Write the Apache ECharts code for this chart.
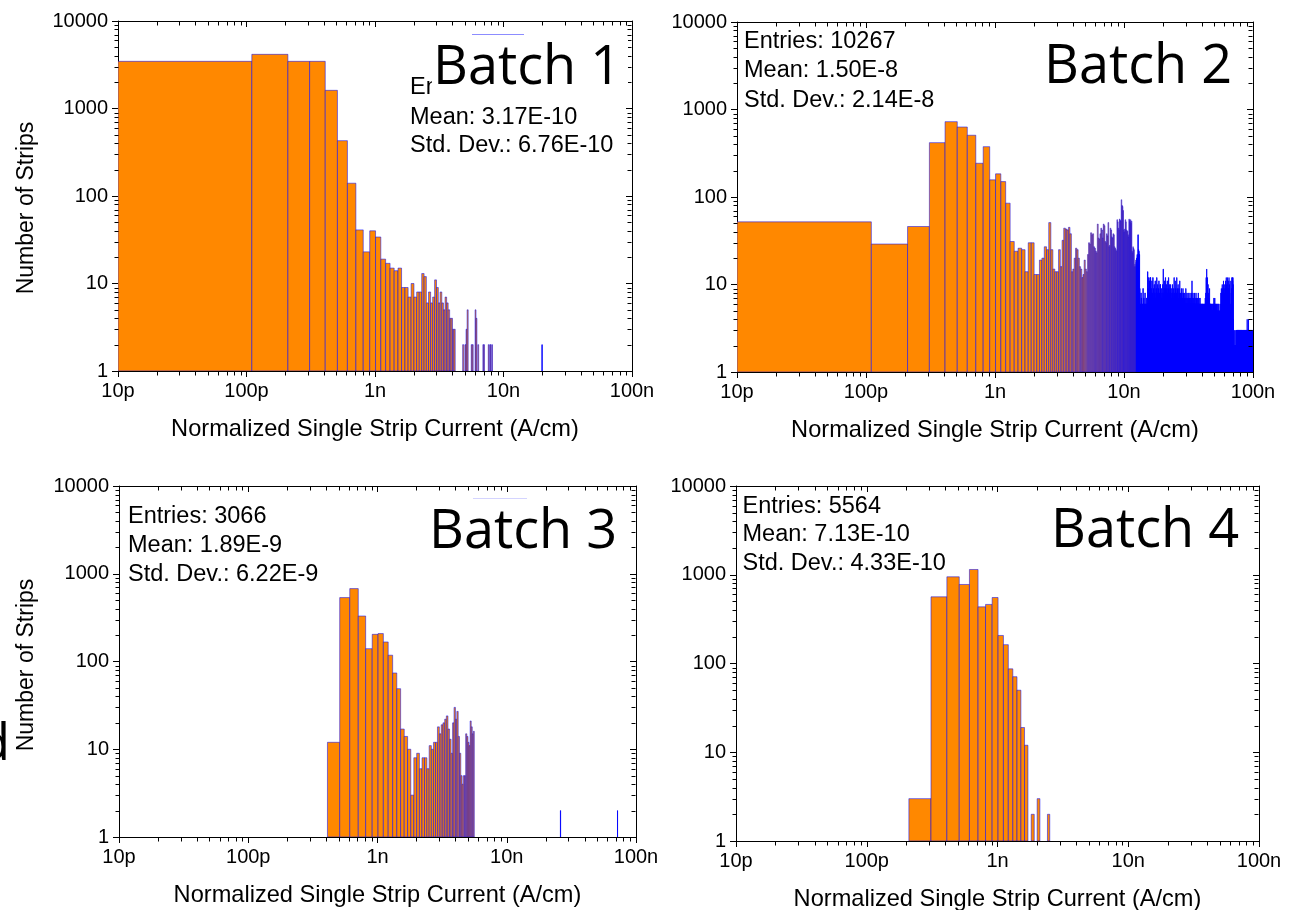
<!DOCTYPE html>
<html>
<head>
<meta charset="utf-8">
<script src="https://cdn.jsdelivr.net/npm/echarts@6/dist/echarts.min.js"></script>
<style>
html,body{margin:0;padding:0;background:#fff;}
#c{width:1290px;height:910px;}
</style>
</head>
<body>
<div id="c"></div>
<script>
// ---------------- data ----------------
// histogram bins: bin k spans [BIN_START + k*BIN_WIDTH, BIN_START + (k+1)*BIN_WIDTH] (A/cm)
const BIN_START = 1e-11;
const BIN_WIDTH = 1e-10;

const xTickLabels = ['10p', '100p', '1n', '10n', '100n'];
const yTickLabels = ['1', '10', '100', '1000', '10000'];
const xAxisTitle = 'Normalized Single Strip Current (A/cm)';
const yAxisTitle = 'Number of Strips';
const panelTitles = ['Batch 1', 'Batch 2', 'Batch 3', 'Batch 4'];
const statsEntries = ['Entries:', 'Entries: 10267', 'Entries: 3066', 'Entries: 5564'];
const statsMean = ['Mean: 3.17E-10', 'Mean: 1.50E-8', 'Mean: 1.89E-9', 'Mean: 7.13E-10'];
const statsStd = ['Std. Dev.: 6.76E-10', 'Std. Dev.: 2.14E-8', 'Std. Dev.: 6.22E-9', 'Std. Dev.: 4.33E-10'];

// Batch 1: counts for bins 0..81, plus isolated far bins
const batch1Counts = [3460,4160,3460,3460,1613,429,140,41,23,40,
  34,19,17,15,14,15,9,9,7,10,
  7,8,8,13,12,6,8,6,7,11,
  9,6,8,6,5,7,6,5,4,4,
  3,3,0,0,0,0,0,0,2,0,
  2,3,5,0,0,0,2,2,0,0,
  5,4,0,2,0,0,0,0,0,2,
  2,0,0,0,0,0,2,0,2,2,
  0,2];
const batch1FarBins = [199];
const batch1FarCounts = [2];

// Batch 2: counts for bins 0..131
const batch2Counts = [52,29,46,418,726,631,508,243,376,157,
  184,150,85,31,24,26,25,14,30,30,
  13,13,19,20,27,25,51,25,15,14,
  14,25,16,32,44,43,42,45,38,14,
  15,20,26,25,20,16,15,12,13,19,
  15,14,22,30,29,39,37,38,27,26,
  24,23,49,34,33,38,44,42,34,49,
  47,31,30,38,36,51,27,28,44,42,
  35,34,38,37,27,26,25,24,55,52,
  44,42,56,54,53,93,80,78,70,42,
  40,43,55,52,42,40,41,37,35,56,
  54,52,55,50,53,24,23,27,26,25,
  16,17,16,19,18,20,22,21,37,25,
  24,22];
// Batch 2: counts for bins 132..999 (dense tail)
const batch2TailCounts = [
  9,6,5,8,7,5,6,5,9,6,7,5,6,8,5,6,5,7,6,5,14,9,6,12,8,11,7,12,
  12,7,9,6,11,8,5,12,7,9,6,10,5,8,11,6,7,9,5,12,8,6,10,7,5,9,11,6,8,5,10,
  10,6,8,5,9,7,5,6,10,8,15,6,7,9,5,11,8,6,12,7,9,5,10,6,8,11,7,5,9,6,12,8,5,10,7,6,9,
  6,10,5,8,4,7,9,5,6,10,8,5,7,4,9,6,12,5,8,7,6,11,5,9,6,4,8,7,12,5,6,9,8,5,10,6,7,4,9,5,8,6,11,7,5,
  8,5,6,4,7,9,5,6,8,4,5,7,6,9,5,4,8,6,5,7,4,6,8,5,7,6,4,5,9,6,7,5,4,6,8,5,6,4,7,5,6,8,4,5,7,6,5,4,6,7,5,8,6,
  5,4,7,6,4,5,8,4,6,5,11,7,4,6,5,4,8,5,6,4,7,5,4,6,5,8,4,6,5,4,7,6,5,4,6,8,4,5,7,4,6,5,4,6,5,7,4,5,6,4,8,5,4,6,5,7,4,6,5,4,6,5,7,4,
  5,4,6,5,4,3,6,5,4,5,6,4,3,5,6,4,5,4,6,3,5,4,6,5,4,5,3,6,4,5,4,6,5,4,3,5,7,4,6,5,8,4,6,12,5,7,4,15,6,5,9,4,6,12,5,7,4,6,10,5,4,6,8,5,4,7,5,4,6,5,9,4,6,5,4,6,
  4,6,5,3,4,6,5,4,3,5,4,6,3,4,5,3,6,4,5,3,4,5,6,3,4,5,4,3,6,4,5,7,4,3,5,6,4,5,3,7,4,5,3,6,4,5,3,4,6,3,5,4,3,5,4,6,3,4,5,3,4,6,3,5,4,3,4,5,3,6,4,5,3,4,5,3,4,6,3,4,5,3,4,3,5,4,3,4,5,3,4,6,
  3,4,5,3,4,8,3,4,5,3,9,4,3,5,4,8,3,4,3,10,4,5,3,4,9,3,4,5,3,8,4,3,11,4,3,5,4,9,3,4,3,8,5,3,4,10,3,4,5,3,9,4,3,4,11,3,5,4,3,8,4,3,12,4,3,5,4,10,3,4,3,9,4,5,3,12,4,3,4,8,3,5,4,3,11,4,3,4,9,3,5,3,4,12,3,4,5,3,10,4,3,4,8,3,5,4,3,11,4,
  3,4,3,5,3,4,3,6,3,4,3,5,3,4,9,3,4,3,12,3,4,3,11,4,3,12,3,4,11,3,3,4,12,3,4,10,3,
  2,2,2,2,2,2,3,2,2,2,2,2,2,2,2,2,2,2,3,2,2,2,2,2,2,2,2,2,2,2,2,2,3,2,2,2,2,2,2,2,2,2,
  3,2,3,3,2,3,2,3,3,2,3,3,2,3,2,3,3,2,3,3,2,3,2,3,3,2,3,2,3,3,2,3,3,2,3,2,3,3,2,3,3,2,3,2,3,3,2,3,2,3,3,
  3,2,3,3,2,3,2,2,3,2,3,3,2,3,2,3,2,2,3,3,2,3,2,3,3,2,2,3,2,3,2,3,3,2,3,2,2,3,2,3,3,2,3,2,3,2,2,3,3,2,3,2,3,2,3,3,2,2,3,2,3,2,3,3,2,3,2,2,3,2,3,3,2,3,2,3,2,2,3,3,2,3,2,3,2,3,3,2,2,3,2,3,2,3,3,2,3,2,2,3,3,2,3,2,4,2,3,3,2,3,2,2,3,2,3,3,2,3,2,3,2,3,3,2,3,4,2,3,2,3,3,2,2,3,2,3,2,3,3,2,3,2,3,2,3,3,2,3,2,2,3,2,3,3,2,3,
  2,3,2,3,3,2,3,2,2,3,3,2,3,2,3,2,3,3,2,3,2,2,3,2,3,3,2,3,2,3,2,2,3,3,2,3,2,3,2,3,3,2,2,3,2,3,2
];
const batch2TailStart = 132;

// Batch 3: counts for bins 0..55, plus isolated far bins
const batch3Counts = [0,0,0,0,12,535,677,330,140,204,
  208,167,118,74,49,17,14,10,3,8,
  9,6,8,8,6,11,10,12,12,18,
  15,19,20,22,24,17,13,9,20,30,
  22,27,14,9,5,4,5,5,15,14,
  12,11,21,18,15,16];
const batch3FarBins = [260, 719];
const batch3FarCounts = [2, 2];

// Batch 4: counts for bins 0..24
const batch4Counts = [0,0,3,564,948,777,1146,435,463,554,
  207,163,87,71,50,19,12,0,2,0,
  3,0,0,0,2];

// ---------------- helpers ----------------
function binsFromDense(counts, start) {
  const out = [];
  counts.forEach((c, i) => {
    const k = start + i;
    if (c > 0) out.push([BIN_START + k * BIN_WIDTH, c, BIN_START + (k + 1) * BIN_WIDTH]);
  });
  return out;
}
function binsFromPairs(bins, counts) {
  return bins.map((k, i) => [BIN_START + k * BIN_WIDTH, counts[i], BIN_START + (k + 1) * BIN_WIDTH]);
}

const panelData = [
  binsFromDense(batch1Counts, 0).concat(binsFromPairs(batch1FarBins, batch1FarCounts)),
  binsFromDense(batch2Counts, 0).concat(binsFromDense(batch2TailCounts, batch2TailStart)),
  binsFromDense(batch3Counts, 0).concat(binsFromPairs(batch3FarBins, batch3FarCounts)),
  binsFromDense(batch4Counts, 0)
];

// ---------------- styles / layout ----------------
const X_MIN = 1e-11, X_MAX = 1e-7, Y_MIN = 1, Y_MAX = 10000;
const SANS = "'Liberation Sans', Arial, sans-serif";
const BIG = "'Open Sans', 'Noto Sans', sans-serif";
const BAR_FILL = '#ff8800';
const BAR_EDGE = 'rgba(0,0,255,0.5)';
const THIN_FILL = '#0000ff';
const THIN_EDGE = 'rgba(0,0,255,0.85)';
const THIN_PX = 0.45;
const MAJOR_LEN = 6, MINOR_LEN = 4;

const grids = [
  { left: 118, top: 21, width: 514, height: 350 },
  { left: 737, top: 22, width: 516, height: 350 },
  { left: 119, top: 486, width: 517, height: 351 },
  { left: 736, top: 486, width: 523, height: 355 }
];

function renderBar(params, api) {
  const xl = Math.max(api.value(0), X_MIN);
  const xr = Math.min(api.value(2), X_MAX);
  const n = api.value(1);
  const pTop = api.coord([xl, n]);
  const pBot = api.coord([xr, Y_MIN]);
  const w = pBot[0] - pTop[0];
  const thin = w < THIN_PX;
  return {
    type: 'rect',
    shape: { x: pTop[0], y: pTop[1], width: w, height: pBot[1] - pTop[1] },
    style: { fill: thin ? THIN_FILL : BAR_FILL, stroke: thin ? THIN_EDGE : BAR_EDGE, lineWidth: 1 }
  };
}

function renderMinorTicks(params, api) {
  const c0 = api.coord([X_MIN, Y_MIN]);
  const c1 = api.coord([X_MAX, Y_MAX]);
  const L = Math.round(c0[0]) + 0.5, B = Math.round(c0[1]) + 0.5;
  const R = Math.round(c1[0]) - 0.5, T = Math.round(c1[1]) + 0.5;
  const ch = [];
  const seg = (x1, y1, x2, y2) => ch.push({ type: 'line', shape: { x1, y1, x2, y2 }, style: { stroke: '#000', lineWidth: 1 } });
  for (let e = -11; e < -7; e++) {
    for (let m = 2; m < 10; m++) {
      const x = Math.round(api.coord([m * Math.pow(10, e), Y_MIN])[0]) + 0.5;
      seg(x, B, x, B + MINOR_LEN);
      seg(x, T, x, T + MINOR_LEN);
    }
  }
  for (let e = 0; e < 4; e++) {
    for (let m = 2; m < 10; m++) {
      const y = Math.round(api.coord([X_MIN, m * Math.pow(10, e)])[1]) + 0.5;
      seg(L - MINOR_LEN, y, L, y);
      seg(R - MINOR_LEN, y, R, y);
    }
  }
  return { type: 'group', children: ch };
}

const xAxes = [], yAxes = [], series = [];
grids.forEach((g, i) => {
  const lineStyle = { color: '#000', width: 1 };
  xAxes.push({
    gridIndex: i, type: 'log', logBase: 10, min: X_MIN, max: X_MAX, position: 'bottom',
    axisLine: { show: true, onZero: false, lineStyle },
    axisTick: { show: true, inside: false, length: MAJOR_LEN, lineStyle },
    axisLabel: { show: true, margin: 10, fontSize: 20, color: '#000', fontFamily: SANS,
      formatter: v => xTickLabels[Math.round(Math.log10(v)) + 11] },
    splitLine: { show: false }, minorTick: { show: false },
    name: xAxisTitle, nameLocation: 'middle', nameGap: 46,
    nameTextStyle: { fontSize: 23.6, color: '#000', fontFamily: SANS }
  });
  xAxes.push({
    gridIndex: i, type: 'log', logBase: 10, min: X_MIN, max: X_MAX, position: 'top',
    axisLine: { show: true, onZero: false, lineStyle },
    axisTick: { show: true, inside: true, length: MAJOR_LEN, lineStyle },
    axisLabel: { show: false }, splitLine: { show: false }
  });
  yAxes.push({
    gridIndex: i, type: 'log', logBase: 10, min: Y_MIN, max: Y_MAX, position: 'left',
    axisLine: { show: true, onZero: false, lineStyle },
    axisTick: { show: true, inside: false, length: MAJOR_LEN, lineStyle },
    axisLabel: { show: true, margin: 10, fontSize: 20, color: '#000', fontFamily: SANS,
      formatter: v => yTickLabels[Math.round(Math.log10(v))] },
    splitLine: { show: false }
  });
  yAxes.push({
    gridIndex: i, type: 'log', logBase: 10, min: Y_MIN, max: Y_MAX, position: 'right',
    axisLine: { show: true, onZero: false, lineStyle },
    axisTick: { show: true, inside: true, length: MAJOR_LEN, lineStyle },
    axisLabel: { show: false }, splitLine: { show: false }
  });
  series.push({
    type: 'custom', name: panelTitles[i], xAxisIndex: 2 * i, yAxisIndex: 2 * i,
    clip: true, silent: true, progressive: 0,
    dimensions: ['xLeft', 'count', 'xRight'], encode: { x: 0, y: 1 },
    data: panelData[i], renderItem: renderBar, z: 2
  });
  series.push({
    type: 'custom', xAxisIndex: 2 * i, yAxisIndex: 2 * i,
    clip: false, silent: true, data: [[1e-9, 10]], encode: { x: 0, y: 1 },
    renderItem: renderMinorTicks, z: 3
  });
});

// annotation layout
const statsPos = [ { x: 410, y: [88, 117.5, 146] }, { x: 744, y: [42, 71, 100.5] },
                   { x: 128, y: [516.5, 545.5, 574.5] }, { x: 742.5, y: [506.5, 535, 563.5] } ];
const titlePos = [ { x: 433, y: 69, box: [432, 38, 196, 60] }, { x: 1044, y: 68, box: [1040, 37, 206, 60] },
                   { x: 429, y: 533, box: [425, 502, 205, 60] }, { x: 1051, y: 532, box: [1046, 502, 206, 60] } ];

const graphics = [];
statsPos.forEach((p, i) => {
  [statsEntries[i], statsMean[i], statsStd[i]].forEach((t, j) => {
    graphics.push({ type: 'text', x: p.x, y: p.y[j], z: 40,
      style: { text: t, fontSize: 23.5, fontFamily: SANS, fill: '#000', align: 'left', verticalAlign: 'middle' } });
  });
});
titlePos.forEach((p, i) => {
  graphics.push({ type: 'rect', z: 50, shape: { x: p.box[0], y: p.box[1], width: p.box[2], height: p.box[3] }, style: { fill: '#fff' } });
  graphics.push({ type: 'text', x: p.x, y: p.y, z: 51,
    style: { text: panelTitles[i], fontSize: 54, fontFamily: BIG, fill: '#000', align: 'left', verticalAlign: 'middle' } });
});
[[27, 208], [27, 665]].forEach(p => {
  graphics.push({ type: 'text', x: p[0], y: p[1], rotation: Math.PI / 2, z: 40,
    style: { text: yAxisTitle, fontSize: 23, fontFamily: SANS, fill: '#000', align: 'center', verticalAlign: 'middle' } });
});
graphics.push({ type: 'line', z: 52, shape: { x1: 472, y1: 34.5, x2: 524, y2: 34.5 }, style: { stroke: '#8c8cff', lineWidth: 1 } });
graphics.push({ type: 'line', z: 52, shape: { x1: 473, y1: 498.5, x2: 527, y2: 498.5 }, style: { stroke: '#d4d4ff', lineWidth: 1 } });
graphics.push({ type: 'text', x: 10, y: 745, z: 40,
  style: { text: 'd', fontSize: 52, fontFamily: BIG, fill: '#000', align: 'right', verticalAlign: 'middle' } });

const chart = echarts.init(document.getElementById('c'), null, { renderer: 'canvas' });
chart.setOption({
  animation: false,
  backgroundColor: '#fff',
  grid: grids.map(g => Object.assign({ containLabel: false, outerBoundsMode: 'none' }, g)),
  xAxis: xAxes,
  yAxis: yAxes,
  series: series,
  graphic: { elements: graphics }
});
</script>
</body>
</html>
